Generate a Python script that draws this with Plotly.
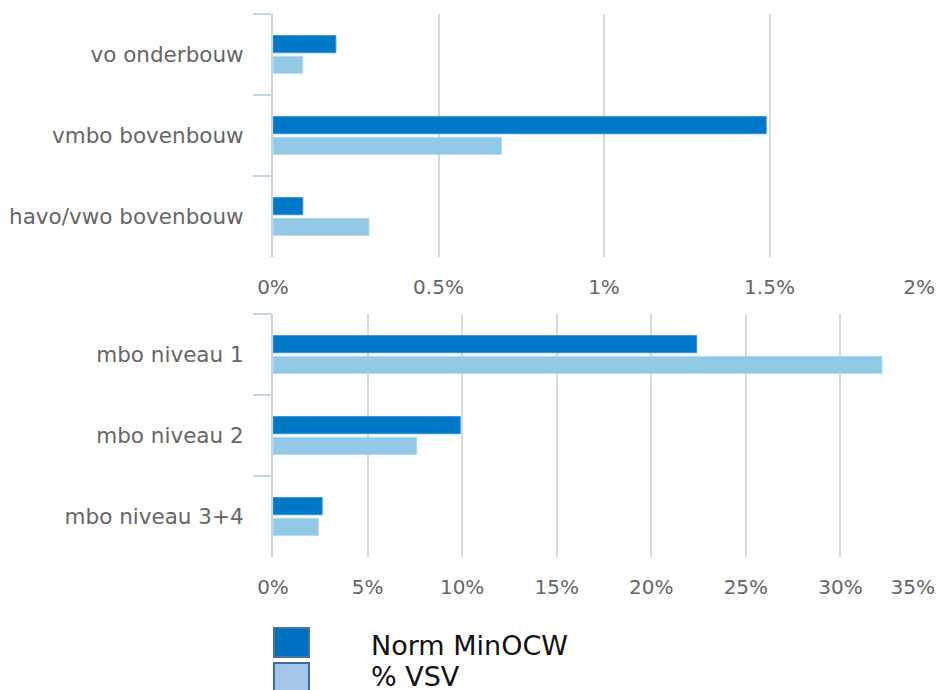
import plotly.graph_objects as go

# ---- data ----
series_names = ["Norm MinOCW", "% VSV"]
vo_categories = ["vo onderbouw", "vmbo bovenbouw", "havo/vwo bovenbouw"]
vo_norm = [0.19, 1.49, 0.09]
vo_vsv = [0.09, 0.69, 0.29]
mbo_categories = ["mbo niveau 1", "mbo niveau 2", "mbo niveau 3+4"]
mbo_norm = [22.4, 9.9, 2.6]
mbo_vsv = [32.2, 7.6, 2.4]
vo_ticks = [0, 0.5, 1, 1.5, 2]
vo_ticklabels = ["0%", "0.5%", "1%", "1.5%", "2%"]
mbo_ticks = [0, 5, 10, 15, 20, 25, 30, 35]
mbo_ticklabels = ["0%", "5%", "10%", "15%", "20%", "25%", "30%", "35%"]

DARK = "#0078c8"
LIGHT = "#92c9e6"
W, H = 939, 690
FONT = "DejaVu Sans"
NB = "\u00a0"

def edge_fit(labels, pads):
    # the last label sits inside the plot edge, as in the reference
    out = list(labels)
    out[-1] = out[-1] + NB * pads
    return out

fig = go.Figure()
fig.add_trace(go.Bar(y=vo_categories, x=vo_norm, orientation="h", name=series_names[0],
                     marker=dict(color=DARK, line=dict(color="#3a93d4", width=1)),
                     xaxis="x", yaxis="y", showlegend=False))
fig.add_trace(go.Bar(y=vo_categories, x=vo_vsv, orientation="h", name=series_names[1],
                     marker=dict(color=LIGHT, line=dict(color="#b3dbef", width=1)),
                     xaxis="x", yaxis="y", showlegend=False))
fig.add_trace(go.Bar(y=mbo_categories, x=mbo_norm, orientation="h", name=series_names[0],
                     marker=dict(color=DARK, line=dict(color="#3a93d4", width=1)),
                     xaxis="x2", yaxis="y2", showlegend=False))
fig.add_trace(go.Bar(y=mbo_categories, x=mbo_vsv, orientation="h", name=series_names[1],
                     marker=dict(color=LIGHT, line=dict(color="#b3dbef", width=1)),
                     xaxis="x2", yaxis="y2", showlegend=False))

def px_x(p):
    return p / W

def px_y(p):
    return 1 - p / H

xdom = [px_x(273), px_x(935)]
common_x = dict(showgrid=True, gridcolor="#d9d9d9", gridwidth=1.5, zeroline=False,
                showline=False, ticks="",
                tickfont=dict(family=FONT, size=20, color="#666666"),
                ticklabelstandoff=16, ticklabeloverflow="allow",
                fixedrange=True, automargin=False)
common_y = dict(type="category", autorange="reversed", showline=True, linecolor="#c5d5e8",
                linewidth=2, ticks="outside", tickson="boundaries", ticklen=18,
                tickcolor="#c5d5e8", tickwidth=2, showgrid=False,
                tickfont=dict(family=FONT, size=21.5, color="#666666"),
                ticklabelstandoff=23, automargin=False, fixedrange=True)

fig.update_layout(
    width=W, height=H,
    margin=dict(l=0, r=0, t=0, b=0),
    paper_bgcolor="white", plot_bgcolor="white",
    barmode="group", bargap=0.49, bargroupgap=0.17,
    font=dict(family=FONT),
    xaxis=dict(domain=xdom, anchor="y", range=[0, 2], tickvals=vo_ticks,
               ticktext=edge_fit(vo_ticklabels, 5), **common_x),
    yaxis=dict(domain=[px_y(257), px_y(14)], anchor="x", **common_y),
    xaxis2=dict(domain=xdom, anchor="y2", range=[0, 35], tickvals=mbo_ticks,
                ticktext=edge_fit(mbo_ticklabels, 7), **common_x),
    yaxis2=dict(domain=[px_y(557), px_y(314)], anchor="x2", **common_y),
)

# custom legend
legend_items = [(series_names[0], "#0070c0", "#4a72a0", 628, 645),
                (series_names[1], "#a3c6e8", "#3d6b9c", 663, 676)]
for name, fill, border, top, ty in legend_items:
    fig.add_shape(type="rect", xref="paper", yref="paper",
                  x0=px_x(274), x1=px_x(309), y0=px_y(top), y1=px_y(top + 29),
                  fillcolor=fill, line=dict(color=border, width=2))
    fig.add_annotation(xref="paper", yref="paper", x=px_x(369), y=px_y(ty),
                       text=name, showarrow=False, xanchor="left", yanchor="middle",
                       font=dict(family=FONT, size=27, color="#111111"))

fig.write_html("out.html", config={"displayModeBar": False},
               post_script="document.body.style.margin='0';document.body.style.overflow='hidden';")
